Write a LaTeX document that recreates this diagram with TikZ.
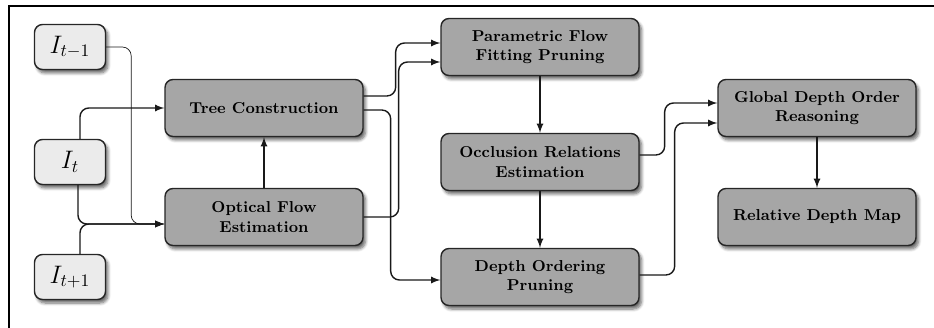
\documentclass[tikz,border=0pt]{standalone}
\usepackage{xcolor}
\usepackage{tikz}
\usepackage{amsmath}
\usetikzlibrary{shadows, shadows.blur, shapes, arrows, positioning}

\begin{document}
\begin{tikzpicture}[x=0.02cm,y=-0.02cm,
        stage/.style={rectangle,rounded corners=0.16cm,draw=black!85,thick,fill=black!35,
          blur shadow={shadow blur steps=6,shadow xshift=0.05cm,shadow yshift=-0.07cm,shadow opacity=60},
          minimum width=3.96cm,minimum height=1.14cm,align=center,font=\small\bfseries},
        frameimg/.style={rectangle,rounded corners=0.16cm,draw=black!85,thick,fill=black!8,
          blur shadow={shadow blur steps=6,shadow xshift=0.05cm,shadow yshift=-0.07cm,shadow opacity=60},
          minimum width=1.42cm,minimum height=0.9cm,font=\Large},
        conn/.style={draw=black!90,thick,rounded corners=5pt,-latex}]
        \useasboundingbox (0,0) rectangle (934,328);
        \draw[line width=0.8pt] (9,328) -- (9,6) -- (934,6);
        % input frames
        \node[frameimg] (itm) at (70,47) {$I_{t-1}$};
        \node[frameimg] (it) at (70,162) {$I_t$};
        \node[frameimg] (itp) at (70,277) {$I_{t+1}$};
        % processing stages
        \node[stage] (tree) at (264,108) {Tree Construction};
        \node[stage] (flow) at (264,217) {Optical Flow\\Estimation};
        \node[stage] (param) at (540,47) {Parametric Flow\\Fitting Pruning};
        \node[stage] (occ) at (540,162) {Occlusion Relations\\Estimation};
        \node[stage] (depth) at (540,277) {Depth Ordering\\Pruning};
        \node[stage] (glob) at (817,108) {Global Depth Order\\Reasoning};
        \node[stage] (rdm) at (817,217) {Relative Depth Map};
        % connections
        \draw[conn] ([xshift=0.2cm]it.north) |- (tree.west);
        \draw[conn] ([xshift=0.16cm]it.south) |- ([yshift=-0.14cm]flow.west);
        \draw[conn] ([xshift=0.2cm]itp.north) |- ([yshift=-0.14cm]flow.west);
        \draw[conn,thin] (itm.east) -- ++(25,0) |- ([yshift=-0.14cm]flow.west);
        \draw[conn] (flow) -- (tree);
        \draw[conn] ([yshift=0.24cm]tree.east) -- ++(32,0) |- ([yshift=0.08cm]param.west);
        \draw[conn] ([yshift=-0.04cm]tree.east) -- ++(27,0) |- ([yshift=-0.06cm]depth.west);
        \draw[conn] (flow.east) -- ++(35,0) |- ([yshift=-0.3cm]param.west);
        \draw[conn] (param) -- (occ);
        \draw[conn] (occ) -- (depth);
        \draw[conn] ([yshift=0.14cm]occ.east) -- ++(25,0) |- ([yshift=0.1cm]glob.west);
        \draw[conn] ([yshift=0.04cm]depth.east) -- ++(35,0) |- ([yshift=-0.3cm]glob.west);
        \draw[conn] (glob) -- (rdm);
\end{tikzpicture}
\end{document}
